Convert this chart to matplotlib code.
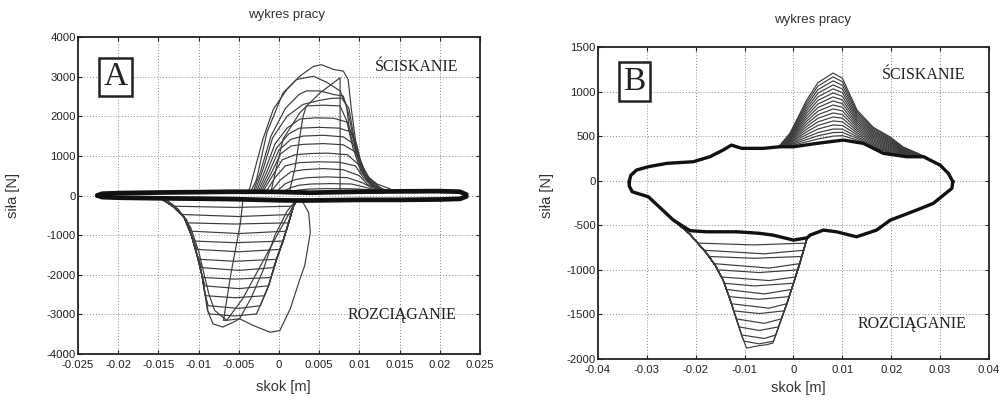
import matplotlib
matplotlib.use("Agg")
import matplotlib.pyplot as plt
import numpy as np

plt.rcParams['font.family'] = ['Liberation Sans', 'DejaVu Sans']

# ---------------- Panel A data (x in mm, y in N) ----------------
bandA_x = [-22.6, -22.0, -20, -15, -10, -6, -4, -2, 0, 2, 4, 6, 10, 15, 20, 22.5, 23.3]
bandA_top = [0, 45, 60, 75, 85, 95, 95, 95, 90, 80, 70, 80, 95, 105, 110, 95, 25]
bandA_bot = [0, -40, -55, -70, -80, -90, -100, -110, -120, -125, -125, -120, -110, -110, -100, -85, -25]

cA_x = [
    [-3.8, -3.6, -2.0, -0.7, 1.0, 2.6, 4.3, 5.3, 6.8, 8.0, 8.6, 9.0, 9.5, 10.1, 10.9, 12.2, 13.8],
    [-3.5, -2.8, -1.5, 0.5, 2.2, 4.3, 6.0, 7.6, 8.4, 8.8, 9.7, 10.9, 12.5],
    [-1.0, 0.5, 2.6, 5.1, 7.6, 7.6, 8.5],
    [-3.2, -2.3, -1.0, 0.8, 2.5, 3.4, 5.1, 6.8, 8.0, 8.6, 9.2, 10.2, 11.5, 13.0],
    [-3.0, -2.0, -0.8, 1.0, 3.0, 5.0, 6.5, 7.8, 8.7, 9.3, 10.1, 11.2, 12.8],
    [1.3, 2.0, 2.6, 3.0, 3.4, 5.5, 7.6, 8.4, 9.2, 10.2, 11.5, 13.0],
    [-2.8, -1.8, -0.5, 1.0, 2.6, 4.5, 6.8, 8.5, 9.3, 10.0, 11.0, 12.5],
    [-2.6, -1.5, -0.3, 1.2, 2.5, 5.0, 7.5, 9.0, 9.8, 10.6, 11.8, 13.0],
    [-2.4, -1.2, 0.0, 1.5, 3.0, 5.5, 8.0, 9.3, 10.2, 11.2, 12.5],
    [-2.2, -1.0, 0.2, 1.5, 3.0, 5.5, 8.0, 9.5, 10.5, 11.5, 13.0],
    [-2.0, -0.8, 0.4, 2.0, 4.0, 6.0, 8.5, 9.8, 10.8, 12.0, 13.5],
    [-1.6, -0.5, 0.8, 2.5, 5.0, 7.5, 9.5, 10.5, 11.5, 13.0],
    [-1.0, 0.2, 1.5, 3.0, 5.5, 8.0, 10.0, 11.0, 12.5],
    [-0.3, 0.8, 2.0, 3.5, 6.0, 8.5, 10.3, 11.5, 13.0],
    [0.5, 1.5, 2.5, 4.0, 6.5, 9.0, 10.5, 12.0],
    [1.0, 2.5, 3.5, 6.0, 9.0, 11.0, 12.5],
]
cA_y = [
    [100, 210, 1420, 2180, 2680, 3015, 3260, 3300, 3180, 3140, 2930, 2180, 1420, 920, 500, 290, 170],
    [100, 400, 1590, 2590, 2930, 3010, 2850, 2640, 2260, 1590, 1000, 500, 200],
    [100, 1420, 2090, 2590, 2970, 100, 90],
    [100, 600, 1500, 2200, 2550, 2640, 2640, 2550, 2510, 2100, 1500, 800, 350, 150],
    [100, 650, 1450, 2000, 2300, 2400, 2450, 2460, 2200, 1500, 850, 400, 150],
    [100, 700, 1500, 2000, 2260, 2280, 2260, 1900, 1200, 600, 250, 130],
    [100, 600, 1300, 1700, 1930, 1960, 1950, 1850, 1400, 800, 350, 150],
    [100, 600, 1200, 1550, 1700, 1720, 1700, 1600, 1100, 550, 250, 130],
    [100, 600, 1150, 1420, 1500, 1520, 1480, 1300, 800, 350, 150],
    [100, 550, 1050, 1250, 1290, 1310, 1280, 1100, 600, 280, 130],
    [100, 500, 900, 1030, 1060, 1070, 1030, 800, 450, 220, 130],
    [100, 450, 750, 830, 850, 840, 750, 450, 250, 130],
    [100, 400, 600, 650, 680, 650, 500, 280, 140],
    [100, 300, 400, 450, 470, 450, 330, 200, 130],
    [100, 200, 260, 290, 300, 290, 220, 140],
    [90, 140, 160, 175, 170, 150, 120],
]

# tension side, panel A
tA_lb_x = [-14.5, -13.2, -11.8, -10.9, -10.2, -9.6, -9.2, -8.9, -8.6]
tA_lb_y = [-100, -270, -550, -1000, -1500, -2000, -2500, -2900, -3100]
tA_rb_x = [-2.9, -2.4, -1.3, -0.3, 0.5, 1.2, 1.8, 2.3]
tA_rb_y = [-3000, -2800, -2280, -1610, -1150, -690, -270, -100]
tA_level = [-270, -480, -690, -900, -1150, -1360, -1610, -1820, -2070, -2280, -2530, -2780, -2990]
tA_xl = [-13.0, -12.0, -11.4, -10.9, -10.5, -10.2, -9.9, -9.6, -9.4, -9.2, -9.0, -8.8, -8.6]
tA_xm = [-5.5, -5.0, -5.5, -5.0, -5.5, -5.0, -5.5, -5.0, -5.5, -5.0, -5.5, -5.0, -5.5]
tA_ym = [-300, -530, -720, -960, -1190, -1420, -1660, -1890, -2110, -2350, -2580, -2850, -3040]
tA_xr = [1.8, 1.5, 1.2, 0.9, 0.5, 0.1, -0.3, -0.7, -1.0, -1.3, -1.8, -2.3, -2.8]
tA_extra_x = [
    [-14.5, -13.2, -11.5, -10.7, -9.8, -9.2, -8.8, -8.2, -7.0, -5.7, -4.9, -3.5, -2.0, -0.5, 1.0, 2.0],
    [-14.0, -12.5, -11.0, -10.0, -9.3, -8.7, -8.0, -6.5, -4.9, -3.2, -1.1, 0.1, 1.4, 2.6, 3.2, 3.9, 3.7, 3.0, 2.5],
    [2.0, 1.7, -0.5, -2.5, -4.5, -6.5, -6.9, -6.0, -4.8, -4.5],
]
tA_extra_y = [
    [-100, -270, -600, -1100, -1770, -2440, -2950, -3240, -3320, -3200, -3110, -2600, -1900, -1000, -400, -150],
    [-100, -350, -800, -1400, -2000, -2500, -2900, -3150, -3110, -3280, -3450, -3410, -2860, -2110, -1770, -940, -435, -180, -100],
    [-150, -290, -1100, -1850, -2600, -3150, -3150, -2000, -700, -150],
]

# ---------------- Panel B data ----------------
bU_x = [-33.6, -33.3, -32.1, -29.7, -25.9, -20.5, -17.1, -14.4, -12.7, -10.6, -6.2, -2.8, 0.0,
        4.8, 10.2, 14.3, 18.4, 23.2, 26.6, 30.0, 31.7, 32.6]
bU_y = [-10, 60, 120, 157, 195, 213, 269, 344, 400, 363, 363, 381, 381,
        419, 456, 419, 307, 269, 269, 175, 81, -10]
bL_x = [32.6, 32.4, 30.7, 28.6, 25.2, 22.5, 19.8, 17.0, 12.9, 8.8, 6.1, 3.4, 2.8, 0.0, -4.2,
        -7.0, -9.6, -11.6, -14.4, -17.8, -21.2, -24.6, -29.7, -33.0, -33.6, -33.6]
bL_y = [-10, -86, -161, -254, -329, -386, -442, -554, -629, -573, -554, -610, -640, -666, -610,
        -590, -580, -573, -573, -573, -560, -441, -180, -124, -60, -10]

cB_x = [-3.0, -0.7, 2.7, 5.0, 8.1, 10.0, 13.0, 16.3, 19.8, 22.4, 25.3, 27.0]
cB_base = [381, 381, 400, 419, 445, 456, 430, 360, 295, 270, 269, 265]
cB_top = [381, 535, 905, 1100, 1208, 1150, 793, 600, 490, 380, 310, 265]
cB_peak = [1208, 1165, 1120, 1075, 1030, 985, 940, 895, 850, 805, 760, 715, 670, 625, 580, 540, 500]

tB_lx = [-24.6, -21.2, -17.8, -16.0, -14.4, -13.0, -11.6, -10.5, -9.6]
tB_ly = [-441, -600, -812, -950, -1115, -1330, -1564, -1750, -1878]
tB_bx = [-8.0, -7.0, -5.5]
tB_by = [-1860, -1850, -1840]
tB_rx = [-4.2, -2.8, -1.3, 0.0, 1.3, 2.8]
tB_ry = [-1820, -1600, -1370, -1150, -925, -640]
tB_level = [-700, -780, -850, -930, -1000, -1080, -1150, -1220, -1300, -1380, -1460, -1550, -1640, -1730, -1800]
tB_xl = [-19.6, -18.3, -17.3, -16.3, -15.5, -14.7, -14.2, -13.7, -13.2, -12.7, -12.2, -11.7, -11.15, -10.6, -10.1]
tB_xm = [-8.0, -6.0, -8.0, -5.0, -7.0, -5.0, -8.0, -6.0, -7.0, -5.0, -7.0, -6.0, -7.0, -6.0, -7.0]
tB_ym = [-720, -820, -870, -980, -1030, -1120, -1180, -1270, -1330, -1430, -1490, -1600, -1680, -1770, -1830]
tB_xr = [2.5, 2.1, 1.7, 1.3, 0.9, 0.4, 0.0, -0.4, -0.9, -1.4, -1.9, -2.5, -3.1, -3.6, -4.1]

# ---------------- drawing ----------------
M = 1e-3
LC = '#3c3c3c'
LW = 0.85

fig = plt.figure(figsize=(10.01, 4.01), dpi=100)
axA = fig.add_axes([0.0779, 0.1172, 0.4016, 0.7905])
axB = fig.add_axes([0.5974, 0.1047, 0.3906, 0.7781])


def mm(a):
    return np.asarray(a, dtype=float) * M


def style(ax, xt, xl, yt, yl, xlim, ylim):
    ax.set_xlim(*xlim)
    ax.set_ylim(*ylim)
    ax.set_xticks(xt)
    ax.set_xticklabels(xl)
    ax.set_yticks(yt)
    ax.set_yticklabels(yl)
    ax.grid(True, linestyle=(0, (1, 2)), color='#8a8a8a', lw=0.7)
    ax.tick_params(direction='in', length=3, labelsize=8.2, colors='#222222',
                   top=True, right=True)
    ax.tick_params(axis='x', pad=4)
    ax.tick_params(axis='y', pad=1.5)
    for s in ax.spines.values():
        s.set_linewidth(1.3)
        s.set_color('#222222')
    ax.set_axisbelow(True)


def tension_curve(lx, ly, rx, ry, L, xl, xm, ym, xr):
    left = [(x, y) for x, y in zip(lx, ly) if y > L]
    right = [(x, y) for x, y in zip(rx, ry) if y > L]
    pts = left + [(xl, L), (xm, ym), (xr, L)] + right
    return mm([p[0] for p in pts]), [p[1] for p in pts]


# Panel A
for xs, ys in zip(cA_x, cA_y):
    axA.plot(mm(xs), ys, color=LC, lw=LW, zorder=2)
for L, xl, xm, ym, xr in zip(tA_level, tA_xl, tA_xm, tA_ym, tA_xr):
    xs, ys = tension_curve(tA_lb_x, tA_lb_y, tA_rb_x, tA_rb_y, L, xl, xm, ym, xr)
    axA.plot(xs, ys, color=LC, lw=LW, zorder=2)
for xs, ys in zip(tA_extra_x, tA_extra_y):
    axA.plot(mm(xs), ys, color=LC, lw=LW, zorder=2)
axA.plot(mm(bandA_x), bandA_top, color='#111111', lw=3.4, zorder=3, solid_capstyle='round')
axA.plot(mm(bandA_x), bandA_bot, color='#111111', lw=3.4, zorder=3, solid_capstyle='round')

style(axA, np.arange(-0.025, 0.0251, 0.005),
      ['-0.025', '-0.02', '-0.015', '-0.01', '-0.005', '0', '0.005', '0.01', '0.015', '0.02', '0.025'],
      np.arange(-4000, 4001, 1000), [str(v) for v in range(-4000, 4001, 1000)],
      (-0.025, 0.025), (-4000, 4000))

# Panel B
for pk in cB_peak:
    f = (pk - 445) / (1208 - 445)
    ys = [b + (t - b) * f for b, t in zip(cB_base, cB_top)]
    axB.plot(mm(cB_x), ys, color=LC, lw=LW, zorder=2)
for L, xl, xm, ym, xr in zip(tB_level, tB_xl, tB_xm, tB_ym, tB_xr):
    xs, ys = tension_curve(tB_lx, tB_ly, tB_rx, tB_ry, L, xl, xm, ym, xr)
    axB.plot(xs, ys, color=LC, lw=LW, zorder=2)
axB.plot(mm(tB_lx + tB_bx + tB_rx), tB_ly + tB_by + tB_ry, color=LC, lw=LW, zorder=2)
axB.plot(mm(bU_x), bU_y, color='#111111', lw=2.4, zorder=3, solid_joinstyle='round')
axB.plot(mm(bL_x), bL_y, color='#111111', lw=2.4, zorder=3, solid_joinstyle='round')

style(axB, np.arange(-0.04, 0.0401, 0.01),
      ['-0.04', '-0.03', '-0.02', '-0.01', '0', '0.01', '0.02', '0.03', '0.04'],
      np.arange(-2000, 1501, 500), [str(v) for v in range(-2000, 1501, 500)],
      (-0.04, 0.04), (-2000, 1500))

# Labels / titles
tf = dict(fontsize=9.5, color='#333333')
fig.text(287 / 1001, 1 - 15 / 401, 'wykres pracy', ha='center', va='center', **tf)
fig.text(813 / 1001, 1 - 20 / 401, 'wykres pracy', ha='center', va='center', **tf)
fig.text(283 / 1001, 1 - 387 / 401, 'skok [m]', ha='center', va='center', fontsize=10.5, color='#333333')
fig.text(798 / 1001, 1 - 388 / 401, 'skok [m]', ha='center', va='center', fontsize=10.5, color='#333333')
fig.text(13 / 1001, 1 - 195 / 401, 'siła [N]', ha='center', va='center', rotation=90, fontsize=10.5, color='#333333')
fig.text(547 / 1001, 1 - 195 / 401, 'siła [N]', ha='center', va='center', rotation=90, fontsize=10.5, color='#333333')

serif = ['Liberation Serif', 'DejaVu Serif']
bbox = dict(boxstyle='square,pad=0.12', fc='white', ec='#222222', lw=1.8)
fig.text(115.5 / 1001, 1 - 77 / 401, 'A', ha='center', va='center', fontsize=24, family=serif,
         color='#222222', bbox=bbox)
fig.text(634.5 / 1001, 1 - 81.5 / 401, 'B', ha='center', va='center', fontsize=24, family=serif,
         color='#222222', bbox=bbox)
fig.text(417 / 1001, 1 - 67 / 401, 'ŚCISKANIE', ha='center', va='center', fontsize=11.5, family=serif, color='#222222')
fig.text(402 / 1001, 1 - 315 / 401, 'ROZCIĄGANIE', ha='center', va='center', fontsize=11.5, family=serif, color='#222222')
fig.text(924 / 1001, 1 - 75 / 401, 'ŚCISKANIE', ha='center', va='center', fontsize=11.5, family=serif, color='#222222')
fig.text(912 / 1001, 1 - 324 / 401, 'ROZCIĄGANIE', ha='center', va='center', fontsize=11.5, family=serif, color='#222222')

fig.savefig('out.png', dpi=100, facecolor='white')
